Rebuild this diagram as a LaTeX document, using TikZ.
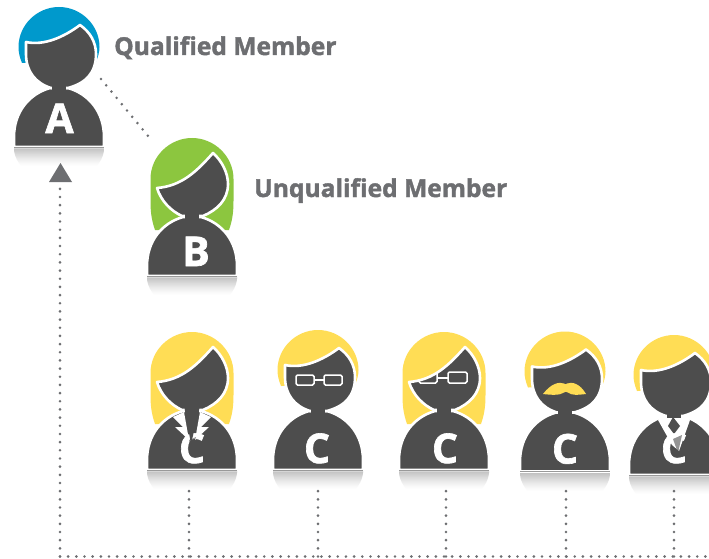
\documentclass[tikz,border=0pt]{standalone}
\usepackage{fontspec}
\setmainfont{Open Sans}
\newfontfamily\heavyfont[BoldFeatures={FakeBold=1.6}]{Open Sans}
\definecolor{dark}{HTML}{4D4D4D}
\definecolor{dotc}{HTML}{6D6E71}
\definecolor{hairblue}{HTML}{0099CC}
\definecolor{hairgreen}{HTML}{8CC63F}
\definecolor{hairyellow}{HTML}{FFDD55}
\newcommand{\shorthairpath}{(-37,-84) .. controls (-39.5,-90) and (-40.5,-95) .. (-40.5,-100) .. controls (-40.5,-122) and (-22,-140) .. (0,-140) .. controls (22,-140) and (40.5,-122) .. (40.5,-100) .. controls (40.5,-95) and (39,-90) .. (37,-85) -- cycle}
\newcommand{\longhairpath}{(-37,-46) .. controls (-40,-55) and (-41.5,-62) .. (-41.5,-75) -- (-41.5,-97) .. controls (-41.5,-120) and (-22,-138) .. (0,-138) .. controls (22,-138) and (41.5,-120) .. (41.5,-97) -- (41.5,-75) .. controls (41.5,-62) and (40,-55) .. (37,-46) -- cycle}
\newcommand{\shortheadpath}{(-33,-105) .. controls (-15,-101) and (5,-110) .. (21,-122) .. controls (31,-115) and (37,-105) .. (37,-93) .. controls (37,-74) and (27,-64) .. (9,-59) -- (-8,-59) .. controls (-24,-64) and (-33,-76) .. (-33,-93) -- cycle}
\newcommand{\longheadpath}{(-35,-88) .. controls (-10,-90) and (5,-105) .. (21,-123) .. controls (30,-115) and (36,-103) .. (36,-92) .. controls (36,-76) and (25,-66) .. (11,-60) -- (-10,-60) .. controls (-21,-65) and (-31,-75) .. (-35,-88) -- cycle}
\newcommand{\bodypath}{(-45,0) -- (-45,-10) .. controls (-45,-35) and (-30,-53) .. (-9,-59) -- (9,-59) .. controls (30,-53) and (45,-35) .. (45,-10) -- (45,0) -- cycle}
\newcommand{\bodyparts}{%
  \begin{scope}
    \clip (-45,0) -- (45,0) -- (45,3) .. controls (44,11) and (41,15) .. (37,20) -- (-37,20) .. controls (-41,15) and (-44,11) .. (-45,3) -- cycle;
    \foreach \i in {0,...,19}{
      \pgfmathsetmacro{\shadeval}{26*(1-\i/19)^1.3}
      \fill[black!\shadeval] (-46,\i) rectangle (46,\i+1.2);
    }
  \end{scope}
  \draw[figure] \bodypath;
  \draw[gray!80,line width=0.8pt] (-45,0.2) -- (45,0.2);
}
\newcommand{\neckfill}{\fill[dark] (-7,-66) rectangle (7,-54);}
\tikzset{
  figure/.style={fill=dark,draw=white,line width=2.6pt,line join=round},
  dots/.style={draw=dotc,line width=2.9pt,line cap=round,dash pattern=on 0pt off 8.17pt},
  letter/.style={text=white,font=\heavyfont\fontsize{41}{41}\selectfont\bfseries,anchor=base,inner sep=0pt},
  caption/.style={text=dotc,font=\heavyfont\fontsize{24.6}{25}\selectfont\bfseries,anchor=base west,inner sep=0pt},
  lens/.style={draw=white,line width=1.5pt,rounded corners=1.5pt},
}
\begin{document}
\begin{tikzpicture}[x=1pt,y=-1pt]
\clip (0,0) rectangle (709,559);
\fill[white] (0,0) rectangle (709,559);
% anchors of the connectors
\coordinate (A) at (59,147);
\coordinate (B) at (192,276);
\coordinate (C1) at (192,470);
\coordinate (C2) at (318,470);
\coordinate (C3) at (444,470);
\coordinate (C4) at (565,471.5);
\coordinate (C5) at (674,475);
\coordinate (AB1) at (101,79);
\coordinate (AB2) at (153,142);
\coordinate (arrowtip) at (60.5,163);
\coordinate (up) at (60,188);
\coordinate (corner) at (60,556.5);
\coordinate (endright) at (712,556.5);
\coordinate (d1) at (189,488);
\coordinate (d2) at (318,488);
\coordinate (d3) at (446,488);
\coordinate (d4) at (566,488);
\coordinate (d5) at (674,488);
\coordinate (b1) at (189,556.5);
\coordinate (b2) at (318,556.5);
\coordinate (b3) at (446,556.5);
\coordinate (b4) at (566,556.5);
\coordinate (b5) at (674,556.5);
% A
\begin{scope}[shift={(A)}]
  \fill[hairblue] \shorthairpath;
  \bodyparts
  \draw[figure] \shortheadpath;
  \neckfill
  \node[letter] (letA) at (0.5,-14) {A};
\end{scope}
% B
\begin{scope}[shift={(B)}]
  \fill[hairgreen] \longhairpath;
  \bodyparts
  \draw[figure] \longheadpath;
  \neckfill
  \node[letter] (letB) at (4,-10) {B};
\end{scope}
% C1: long hair, collar and tie
\begin{scope}[shift={(C1)}]
  \fill[hairyellow] \longhairpath;
  \bodyparts
  \draw[figure] \longheadpath;
  \neckfill
  \fill[white] (-19,-53) -- (-8,-58) -- (-3,-30) -- (-17,-43) -- (-9,-43) -- cycle;
  \fill[white] (19,-53) -- (8,-58) -- (3,-30) -- (17,-43) -- (9,-43) -- cycle;
  \node[letter] (letC1) at (0,-7) {C};
  \fill[dark] (-7.5,-62) -- (7.5,-62) -- (-1,-26) -- cycle;
  \fill[dark,opacity=.55] (4,-33) -- (-3,-30) -- (-1,-17) -- cycle;
\end{scope}
% C2: short hair, glasses
\begin{scope}[shift={(C2)}]
  \fill[hairyellow] \shorthairpath;
  \bodyparts
  \draw[figure] \shortheadpath;
  \neckfill
  \draw[lens] (-22,-95) rectangle (-4,-85);
  \draw[lens] (6,-95) rectangle (24,-85);
  \draw[white,line width=1.5pt] (-4,-90) -- (6,-90);
  \node[letter] (letC2) at (-1,-7) {C};
\end{scope}
% C3: long hair, glasses
\begin{scope}[shift={(C3)}]
  \fill[hairyellow] \longhairpath;
  \bodyparts
  \draw[figure] \longheadpath;
  \neckfill
  \begin{scope}
    \clip (-35,-88) .. controls (-10,-90) and (5,-105) .. (21,-123) -- (40,-123) -- (40,-70) -- (-35,-70) -- cycle;
    \draw[lens] (-25,-98) rectangle (-7,-87);
    \draw[white,line width=1.5pt] (-7,-92) -- (4,-92);
  \end{scope}
  \draw[lens] (4,-98) rectangle (23,-87);
  \node[letter] (letC3) at (1,-7) {C};
\end{scope}
% C4: short hair, moustache
\begin{scope}[shift={(C4)}]
  \fill[hairyellow] \shorthairpath;
  \bodyparts
  \draw[figure] \shortheadpath;
  \neckfill
  \fill[hairyellow] (-22,-77.5) .. controls (-14,-88) and (-6,-90) .. (-1,-88) .. controls (0,-87) and (1,-87) .. (2,-88) .. controls (7,-90) and (15,-88) .. (21,-77.5) .. controls (13,-76.5) and (6,-76) .. (3,-79) .. controls (1,-80) and (0,-80) .. (-1,-79) .. controls (-5,-76) and (-14,-76.5) .. (-22,-77.5) -- cycle;
  \node[letter] (letC4) at (0,-8) {C};
\end{scope}
% C5: short hair, shirt and tie
\begin{scope}[shift={(C5)}]
  \fill[hairyellow] \shorthairpath;
  \bodyparts
  \fill[white] (-16,-55) -- (-9,-62) -- (9,-62) -- (16,-55) -- (5,-24) -- (-2,-30) -- cycle;
  \draw[figure,draw=white] \shortheadpath;
  \fill[dark] (-7,-62) rectangle (7,-57);
  \fill[dark] (-1,-58) -- (6,-49) -- (0,-41) -- (-6,-49) -- cycle;
  \node[letter] (letC5) at (0,-12) {C};
  \fill[dark,opacity=.6] (-1,-36) -- (8,-40) -- (4,-22) -- cycle;
\end{scope}
% connectors
\path[dots] (AB1) -- (AB2);
\path[dots] (corner) -- (up);
\path[dots] (corner) -- (endright);
\path[dots] (b1) -- (d1);
\path[dots] (b2) -- (d2);
\path[dots] (b3) -- (d3);
\path[dots] (b4) -- (d4);
\path[dots] (b5) -- (d5);
\fill[dotc] (arrowtip) -- ++(11.5,19) -- ++(-23,0) -- cycle;
% captions
\node[caption] (capA) at (114,55) {Qualified Member};
\node[caption] (capB) at (254,197) {Unqualified Member};
\end{tikzpicture}
\end{document}
